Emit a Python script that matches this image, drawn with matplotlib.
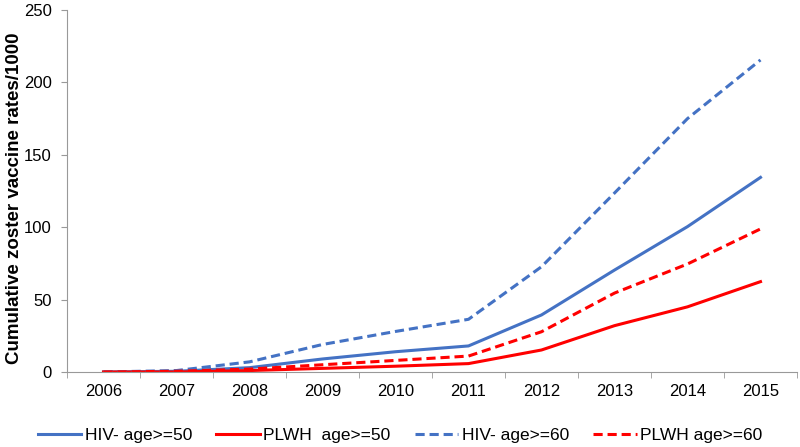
import matplotlib.pyplot as plt
import numpy as np

plt.rcParams['font.family'] = ['Liberation Sans', 'DejaVu Sans']

years = ["2006", "2007", "2008", "2009", "2010", "2011", "2012", "2013", "2014", "2015"]
hiv_neg_50 = [0, 0.5, 3, 9, 14, 18, 39.4, 70.4, 100.4, 134.4]
plwh_50 = [0, 0, 1, 2.5, 4, 5.8, 15.2, 32, 45, 62.4]
hiv_neg_60 = [0, 1, 7, 19, 28, 36.4, 72.7, 123.6, 175, 215.5]
plwh_60 = [0, 0.5, 2, 5, 8, 11, 27.8, 54.5, 74.6, 98.8]

blue = '#4472C4'
red = '#FF0000'

fig = plt.figure(figsize=(8, 4.47), dpi=100)
ax = fig.add_axes([67/800, 1-372/447, 730/800, 362/447])

x = np.arange(len(years))
ax.plot(x, hiv_neg_50, color=blue, lw=2.2, label='HIV- age>=50')
ax.plot(x, plwh_50, color=red, lw=2.2, label='PLWH  age>=50')
ax.plot(x, hiv_neg_60, color=blue, lw=2.2, ls=(0, (3, 1.6)), label='HIV- age>=60')
ax.plot(x, plwh_60, color=red, lw=2.2, ls=(0, (3, 1.6)), label='PLWH age>=60')

ax.set_xlim(-0.5, len(years) - 0.5)
ax.set_ylim(0, 250)
ax.set_yticks(range(0, 251, 50))
ax.set_xticks(x, years)
ax.set_xticks(np.arange(-0.5, len(years), 1), minor=True)
ax.tick_params(axis='x', which='major', length=0, pad=9, labelsize=12)
ax.tick_params(axis='x', which='minor', length=4, color='#999999')
ax.tick_params(axis='y', length=4, color='#999999', labelsize=12, pad=7)

for s in ['top', 'right']:
    ax.spines[s].set_visible(False)
for s in ['left', 'bottom']:
    ax.spines[s].set_color('#999999')

ax.set_ylabel('Cumulative zoster vaccine rates/1000', fontsize=13.5, fontweight='bold')
ax.yaxis.set_label_coords(-0.06, 0.48)

fig.legend(loc='center', bbox_to_anchor=(0.5, 12/447), ncol=4, frameon=False,
           fontsize=12.5, handlelength=2.5, columnspacing=1.4, handletextpad=0.2)

plt.savefig('out.png', dpi=100)
